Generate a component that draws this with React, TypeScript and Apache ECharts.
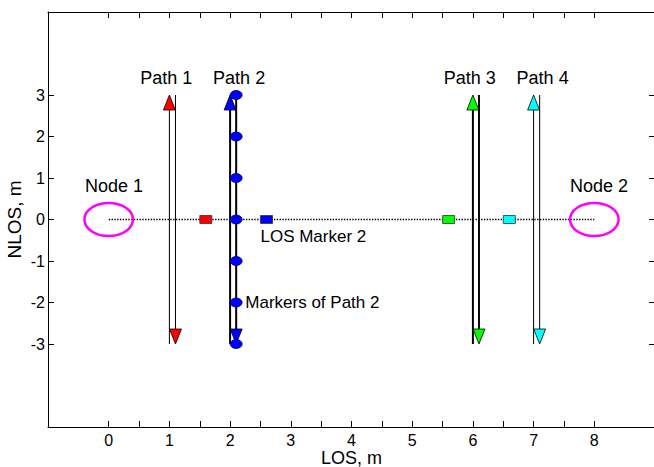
import React, { useEffect, useRef } from 'react';
import * as echarts from 'echarts';

const FONT = '"Liberation Sans", Arial, Helvetica, sans-serif';

// Axis ticks / labels
const xTickValues = [0, 0.5, 1, 1.5, 2, 2.5, 3, 3.5, 4, 4.5, 5, 5.5, 6, 6.5, 7, 7.5, 8];
const xLabelValues = [0, 1, 2, 3, 4, 5, 6, 7, 8];
const yTickValues = [-3, -2, -1, 0, 1, 2, 3];

// Paths (double arrows: up at upX, down at downX)
const pathNames = ['Path 1', 'Path 2', 'Path 3', 'Path 4'];
const pathUpX = [1.0, 2.0, 6.0, 7.0];
const pathDownX = [1.1, 2.1, 6.1, 7.1];
const pathTop = 3;
const pathBottom = -3;
const pathColors = ['#ff0000', '#0000ff', '#00ff00', '#00ffff'];
const pathLineWidths = [1, 2, 2, 1];
const pathLabelX = [0.52, 1.72, 5.52, 6.72];
const pathLabelY = 3.4;

// LOS markers (squares on the LOS line)
const losMarkerX = [1.6, 2.6, 5.6, 6.6];
const losMarkerY = 0;

// Markers of path 2
const path2MarkerX = 2.1;
const path2MarkerY = [3, 2, 1, 0, -1, -2, -3];

// Nodes
const nodeNames = ['Node 1', 'Node 2'];
const nodeX = [0, 8];
const nodeY = 0;
const nodeRadius = 0.4;
const nodeLabelX = [-0.39, 7.6];
const nodeLabelY = 0.8;

// LOS line
const losLineX = [0, 8];

// Other annotations
const annotationTexts = ['LOS Marker 2', 'Markers of Path 2'];
const annotationX = [2.5, 2.25];
const annotationY = [-0.42, -2];

export default function App() {
  const ref = useRef<HTMLDivElement>(null);

  useEffect(() => {
    if (!ref.current) return;
    const chart = echarts.init(ref.current, null, { renderer: 'svg' });

    const labelTexts: string[] = [];
    const labelPos: number[][] = [];
    const labelSizes: number[] = [];
    pathNames.forEach((n, i) => {
      labelTexts.push(n);
      labelPos.push([pathLabelX[i], pathLabelY]);
      labelSizes.push(18);
    });
    nodeNames.forEach((n, i) => {
      labelTexts.push(n);
      labelPos.push([nodeLabelX[i], nodeLabelY]);
      labelSizes.push(18);
    });
    annotationTexts.forEach((n, i) => {
      labelTexts.push(n);
      labelPos.push([annotationX[i], annotationY[i]]);
      labelSizes.push(17);
    });

    const axisLine = { onZero: false, lineStyle: { color: '#000', width: 1 } };
    const tickStyle = { color: '#000', width: 1 };

    chart.setOption({
      animation: false,
      backgroundColor: '#fff',
      grid: { left: 48, right: -1, top: 12, bottom: 40, containLabel: false, outerBoundsMode: 'none' },
      xAxis: [
        {
          type: 'value',
          position: 'bottom',
          min: -1,
          max: 9,
          axisLine,
          axisTick: { inside: true, length: 6, customValues: xTickValues, lineStyle: tickStyle },
          axisLabel: { customValues: xLabelValues, fontSize: 16, lineHeight: 15, color: '#000', fontFamily: FONT, margin: 6 },
          splitLine: { show: false },
          name: 'LOS, m',
          nameLocation: 'middle',
          nameGap: 22,
          nameMoveOverlap: false,
          nameTextStyle: { fontSize: 18, lineHeight: 18, color: '#000', fontFamily: FONT },
        },
        {
          type: 'value',
          position: 'top',
          min: -1,
          max: 9,
          axisLine,
          axisTick: { inside: true, length: 6, customValues: xTickValues, lineStyle: tickStyle },
          axisLabel: { show: false },
          splitLine: { show: false },
        },
      ],
      yAxis: [
        {
          type: 'value',
          position: 'left',
          min: -5,
          max: 5,
          axisLine,
          axisTick: { inside: true, length: 6, customValues: yTickValues, lineStyle: tickStyle },
          axisLabel: { customValues: yTickValues, fontSize: 16, color: '#000', fontFamily: FONT, margin: 3 },
          splitLine: { show: false },
          name: 'NLOS, m',
          nameLocation: 'middle',
          nameGap: 24,
          nameMoveOverlap: false,
          nameRotate: 90,
          nameTextStyle: { fontSize: 19, color: '#000', fontFamily: FONT },
        },
        {
          type: 'value',
          position: 'right',
          min: -5,
          max: 5,
          axisLine,
          axisTick: { inside: true, length: 6, customValues: yTickValues, lineStyle: tickStyle },
          axisLabel: { show: false },
          splitLine: { show: false },
        },
      ],
      series: [
        {
          type: 'line',
          data: losLineX.map((x) => [x, losMarkerY]),
          symbol: 'none',
          lineStyle: { color: '#000', width: 1.4, type: [1.4, 1.4] },
          z: 1,
        },
        {
          type: 'custom',
          data: nodeX.map((x) => [x, nodeY]),
          z: 2,
          renderItem: (params: any, api: any) => {
            const c = api.coord([api.value(0), api.value(1)]);
            const s = api.size([nodeRadius, nodeRadius]);
            return {
              type: 'ellipse',
              shape: { cx: c[0], cy: c[1], rx: s[0], ry: s[1] },
              style: { fill: 'none', stroke: '#ff00ff', lineWidth: 2.5 },
            };
          },
        },
        {
          type: 'custom',
          data: pathUpX.map((x, i) => [x, pathDownX[i]]),
          z: 3,
          renderItem: (params: any, api: any) => {
            const i = params.dataIndex;
            const ux = api.value(0);
            const dx = api.value(1);
            const u0 = api.coord([ux, pathBottom]);
            const u1 = api.coord([ux, pathTop]);
            const d0 = api.coord([dx, pathTop]);
            const d1 = api.coord([dx, pathBottom]);
            const lw = pathLineWidths[i];
            const hw = 6;
            const hl = 15;
            return {
              type: 'group',
              children: [
                {
                  type: 'line',
                  shape: { x1: u0[0], y1: u0[1], x2: u1[0], y2: u1[1] + hl },
                  style: { stroke: '#000', lineWidth: lw },
                },
                {
                  type: 'line',
                  shape: { x1: d0[0], y1: d0[1], x2: d1[0], y2: d1[1] - hl },
                  style: { stroke: '#000', lineWidth: lw },
                },
                {
                  type: 'polygon',
                  shape: { points: [[u1[0], u1[1]], [u1[0] - hw, u1[1] + hl], [u1[0] + hw, u1[1] + hl]] },
                  style: { fill: pathColors[i], stroke: '#000', lineWidth: 0.8 },
                },
                {
                  type: 'polygon',
                  shape: { points: [[d1[0], d1[1]], [d1[0] - hw, d1[1] - hl], [d1[0] + hw, d1[1] - hl]] },
                  style: { fill: pathColors[i], stroke: '#000', lineWidth: 0.8 },
                },
              ],
            };
          },
        },
        {
          type: 'scatter',
          data: losMarkerX.map((x, i) => ({ value: [x, losMarkerY], itemStyle: { color: pathColors[i] } })),
          symbol: 'rect',
          symbolSize: [12, 8],
          itemStyle: { borderColor: '#333', borderWidth: 0.8, opacity: 1 },
          z: 4,
        },
        {
          type: 'scatter',
          data: path2MarkerY.map((y) => [path2MarkerX, y]),
          symbol: 'path://M-1,0A1,1 0 1,0 1,0A1,1 0 1,0 -1,0Z',
          symbolSize: [12, 9],
          itemStyle: { color: '#0000ff', borderColor: '#000066', borderWidth: 0.8, opacity: 1 },
          z: 5,
        },
        {
          type: 'custom',
          data: labelPos,
          z: 6,
          renderItem: (params: any, api: any) => {
            const i = params.dataIndex;
            const c = api.coord([api.value(0), api.value(1)]);
            return {
              type: 'text',
              x: c[0],
              y: c[1],
              style: {
                text: labelTexts[i],
                fill: '#000',
                fontSize: labelSizes[i],
                fontFamily: FONT,
                align: 'left',
                verticalAlign: 'middle',
              },
            };
          },
        },
      ],
    });

    return () => chart.dispose();
  }, []);

  return (
    <div
      ref={ref}
      style={{ position: 'fixed', left: 0, top: 0, width: 654, height: 467, background: '#fff' }}
    />
  );
}
